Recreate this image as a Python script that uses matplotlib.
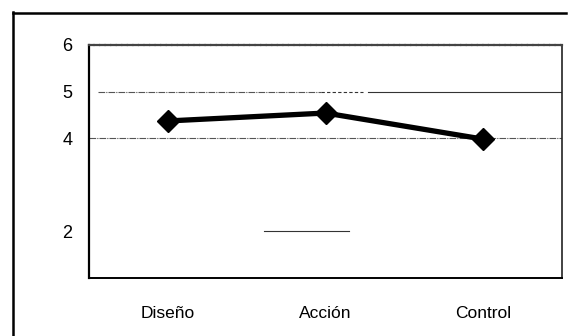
import matplotlib.pyplot as plt
from matplotlib.lines import Line2D

categories = ["Diseño", "Acción", "Control"]
values = [4.37, 4.54, 3.98]
ytick_values = [2, 4, 5, 6]
ytick_labels = ["2", "4", "5", "6"]

plt.rcParams['font.family'] = ['Liberation Sans', 'DejaVu Sans']

fig = plt.figure(figsize=(5.69, 3.36), dpi=100)
ax = fig.add_axes([89 / 569, 1 - 278 / 336, (562 - 89) / 569, (278 - 45) / 336])

# outer frame: only its left and top edges are inside the picture
fx = 13 / 569
fy = 1 - 13 / 336
fig.lines.append(Line2D([fx, fx], [0.0, fy + 0.002], transform=fig.transFigure,
                        color='black', linewidth=1.8))
fig.lines.append(Line2D([fx, 0.995], [fy, fy], transform=fig.transFigure,
                        color='black', linewidth=1.8))

# gridlines as they appear on the scanned chart
ax.axhline(4, color='#555555', linewidth=0.8, linestyle=(0, (6, 1, 1, 1)))
ax.axhline(5, xmin=0.02, xmax=0.49, color='#555555', linewidth=0.8, linestyle=(0, (6, 1, 1, 1)))
ax.axhline(5, xmin=0.49, xmax=0.58, color='#333333', linewidth=0.8, linestyle=(0, (3, 2)))
ax.axhline(5, xmin=0.59, xmax=1.0, color='#333333', linewidth=0.8)
ax.axhline(2, xmin=0.37, xmax=0.55, color='#333333', linewidth=0.8)

x = list(range(len(categories)))
ax.plot(x, values, color='black', linewidth=3.8, marker='D', markersize=11,
        solid_joinstyle='miter')

ax.set_xlim(-0.5, 2.5)
ax.set_ylim(1, 6)
ax.set_xticks(x)
ax.set_xticklabels(categories, fontsize=12.5)
ax.set_yticks(ytick_values)
ax.set_yticklabels(ytick_labels, fontsize=13)
ax.tick_params(axis='both', length=0)
ax.tick_params(axis='y', pad=12)
ax.tick_params(axis='x', pad=20)

ax.spines['left'].set_linewidth(1.6)
ax.spines['bottom'].set_linewidth(1.4)
ax.spines['top'].set_linewidth(1.6)
ax.spines['top'].set_color('#444444')
ax.spines['top'].set_linestyle((0, (2, 0.5)))
ax.spines['right'].set_linewidth(1.2)
ax.spines['right'].set_color('#222222')

fig.savefig("out.png", dpi=100)
